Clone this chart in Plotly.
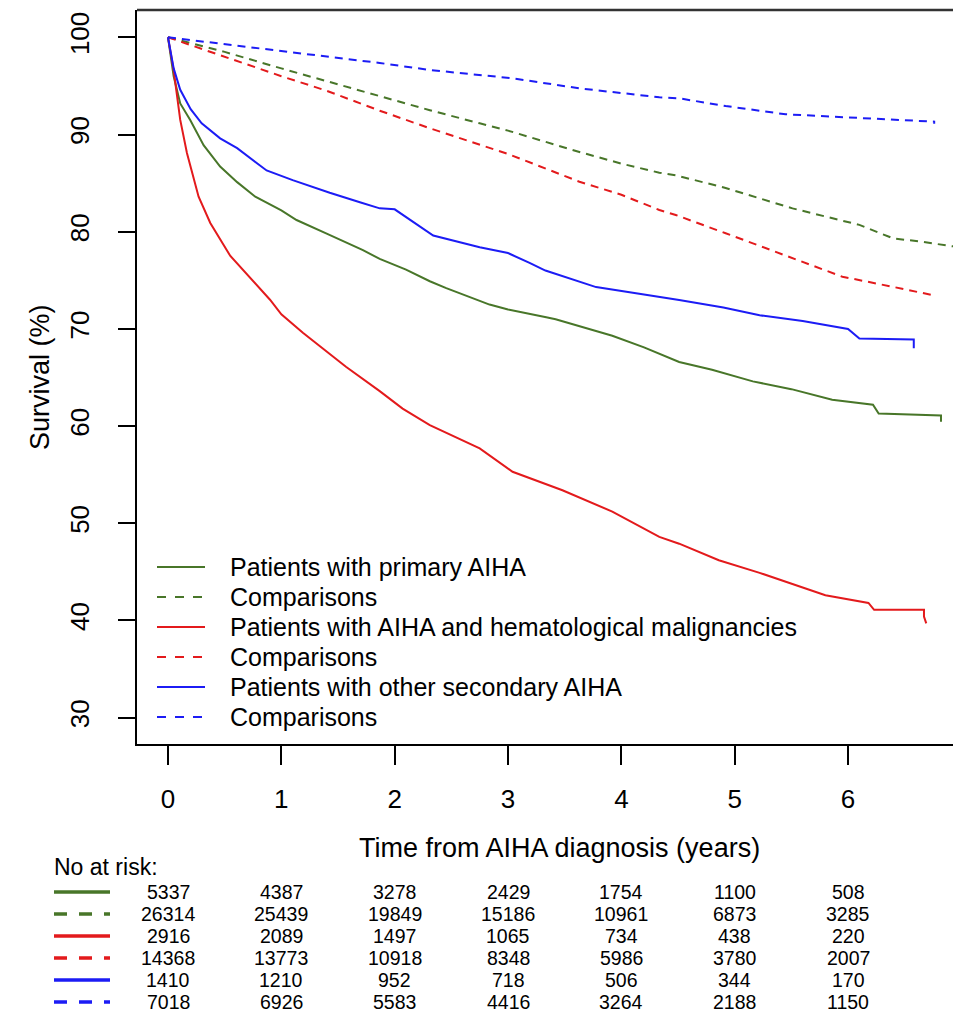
import plotly.graph_objects as go

# ---------------- data ----------------
# Patients with primary AIHA
t_prim = [0, 0.05, 0.108, 0.196, 0.314, 0.46, 0.61, 0.77, 1.0, 1.134, 1.4, 1.72, 1.868, 2.1, 2.31,
          2.455, 2.837, 3.0, 3.337, 3.42, 3.92, 4.2, 4.51, 4.8, 5.16, 5.5, 5.86, 6.15, 6.22, 6.27, 6.82, 6.82]
s_prim = [100, 96.0, 93.2, 91.5, 88.9, 86.7, 85.1, 83.6, 82.2, 81.2, 79.8, 78.1, 77.2, 76.1, 74.9,
          74.2, 72.5, 72.0, 71.2, 71.0, 69.3, 68.1, 66.6, 65.8, 64.6, 63.8, 62.7, 62.35, 62.2, 61.3, 61.1, 60.45]
# Comparisons for primary AIHA
t_prim_c = [0, 0.5, 1.0, 1.4, 1.868, 2.31, 2.75, 3.0, 3.63, 4.0, 4.335, 4.48, 4.92, 5.51, 6.10, 6.40, 6.63, 6.95]
s_prim_c = [100, 98.5, 96.8, 95.5, 93.96, 92.5, 91.15, 90.4, 88.2, 87.0, 86.07, 85.8, 84.5, 82.4, 80.7, 79.3, 79.0, 78.45]
# Patients with AIHA and hematological malignancies
t_heme = [0, 0.05, 0.108, 0.167, 0.27, 0.373, 0.55, 0.77, 0.9, 1.0, 1.19, 1.57, 1.868, 2.07, 2.31, 2.75,
          3.04, 3.48, 3.92, 4.335, 4.51, 4.86, 5.22, 5.80, 6.18, 6.23, 6.67, 6.67, 6.69]
s_heme = [100, 96.6, 91.5, 88.1, 83.6, 80.9, 77.5, 74.7, 73.0, 71.5, 69.6, 66.1, 63.6, 61.8, 60.1, 57.7,
          55.3, 53.4, 51.2, 48.6, 47.9, 46.2, 44.9, 42.6, 41.8, 41.1, 41.1, 40.4, 39.7]
# Comparisons for hematological malignancies
t_heme_c = [0, 0.5, 1.0, 1.4, 1.868, 2.31, 2.75, 3.0, 3.63, 4.0, 4.335, 4.48, 4.92, 5.51, 5.95, 6.39, 6.74]
s_heme_c = [100, 98.0, 96.0, 94.5, 92.45, 90.64, 88.92, 88.0, 85.14, 83.8, 82.23, 81.72, 79.84, 77.26, 75.37, 74.34, 73.49]
# Patients with other secondary AIHA
t_oth = [0, 0.05, 0.108, 0.2, 0.297, 0.46, 0.61, 0.77, 0.87, 1.1, 1.427, 1.7, 1.868, 2.0, 2.31, 2.34,
         2.75, 3.0, 3.19, 3.33, 3.777, 4.0, 4.42, 4.51, 4.9, 5.22, 5.6, 5.92, 6.0, 6.10, 6.58, 6.58]
s_oth = [100, 96.8, 94.6, 92.6, 91.15, 89.6, 88.6, 87.2, 86.3, 85.3, 84.0, 83.0, 82.4, 82.3, 79.9, 79.6,
         78.4, 77.8, 76.8, 76.0, 74.3, 73.9, 73.1, 72.97, 72.2, 71.4, 70.8, 70.1, 70.0, 69.0, 68.9, 68.0]
# Comparisons for other secondary AIHA
t_oth_c = [0, 0.5, 0.987, 1.868, 2.31, 3.042, 3.63, 4.335, 4.51, 4.92, 5.45, 6.10, 6.76, 6.76]
s_oth_c = [100, 99.3, 98.6, 97.36, 96.64, 95.78, 94.75, 93.83, 93.72, 92.93, 92.08, 91.73, 91.32, 91.1]

series_labels = ["Patients with primary AIHA", "Comparisons",
                 "Patients with AIHA and hematological malignancies", "Comparisons",
                 "Patients with other secondary AIHA", "Comparisons"]

# number at risk
risk_times = [0, 1, 2, 3, 4, 5, 6]
risk_prim = [5337, 4387, 3278, 2429, 1754, 1100, 508]
risk_prim_c = [26314, 25439, 19849, 15186, 10961, 6873, 3285]
risk_heme = [2916, 2089, 1497, 1065, 734, 438, 220]
risk_heme_c = [14368, 13773, 10918, 8348, 5986, 3780, 2007]
risk_oth = [1410, 1210, 952, 718, 506, 344, 170]
risk_oth_c = [7018, 6926, 5583, 4416, 3264, 2188, 1150]

x_ticks = [0, 1, 2, 3, 4, 5, 6]
y_ticks = [30, 40, 50, 60, 70, 80, 90, 100]

# ---------------- styling ----------------
GREEN = "#487629"
RED = "#e31a1c"
BLUE = "#1c1cf5"
FONT = "Liberation Sans, Arial, Helvetica, sans-serif"
W, H = 969, 1036
L, R, T, B = 137, 953, 10, 744
PW, PH = R - L, B - T


def xp(px):
    return (px - L) / PW


def yp(py):
    return (B - py) / PH


curves = [
    (t_prim, s_prim, GREEN, "solid"),
    (t_prim_c, s_prim_c, GREEN, "8px,6px"),
    (t_heme, s_heme, RED, "solid"),
    (t_heme_c, s_heme_c, RED, "8px,6px"),
    (t_oth, s_oth, BLUE, "solid"),
    (t_oth_c, s_oth_c, BLUE, "8px,6px"),
]
risk_rows = [risk_prim, risk_prim_c, risk_heme, risk_heme_c, risk_oth, risk_oth_c]

fig = go.Figure()
for (tx, sy, col, dash), name in zip(curves, series_labels):
    fig.add_trace(go.Scatter(x=tx, y=sy, mode="lines", name=name,
                             line=dict(color=col, width=2, dash=dash),
                             hoverinfo="skip"))

shapes = []
annotations = []

# top border of the box
shapes.append(dict(type="line", xref="paper", yref="paper", x0=0, x1=1, y0=1, y1=1,
                   line=dict(color="#333333", width=2.5)))

# legend inside plot
for i, ((tx, sy, col, dash), name) in enumerate(zip(curves, series_labels)):
    py = 567 + 30 * i
    shapes.append(dict(type="line", xref="paper", yref="paper",
                       x0=xp(157), x1=xp(205), y0=yp(py), y1=yp(py),
                       line=dict(color=col, width=2, dash="9px,9px" if dash != "solid" else "solid")))
    annotations.append(dict(xref="paper", yref="paper", x=xp(228), y=yp(py), text=name,
                            showarrow=False, xanchor="left", yanchor="middle",
                            font=dict(size=25, family=FONT, color="black")))

# axis titles
annotations.append(dict(xref="x", yref="paper", x=(559 - 168) / 113.33, y=yp(848),
                        text="Time from AIHA diagnosis (years)", showarrow=False,
                        xanchor="center", yanchor="middle",
                        font=dict(size=27, family=FONT, color="black")))
annotations.append(dict(xref="paper", yref="paper", x=xp(40), y=0.5, text="Survival (%)",
                        textangle=-90, showarrow=False, xanchor="center", yanchor="middle",
                        font=dict(size=27, family=FONT, color="black")))

# number at risk table
annotations.append(dict(xref="paper", yref="paper", x=xp(53), y=yp(867), text="No at risk:",
                        showarrow=False, xanchor="left", yanchor="middle", borderpad=0,
                        font=dict(size=23, family=FONT, color="black")))
for i, ((tx, sy, col, dash), row) in enumerate(zip(curves, risk_rows)):
    py = 892 + 22 * i
    shapes.append(dict(type="line", xref="paper", yref="paper",
                       x0=xp(54), x1=xp(110), y0=yp(py), y1=yp(py),
                       line=dict(color=col, width=3.5,
                                 dash="13px,12px" if dash != "solid" else "solid")))
    for tv, n in zip(risk_times, row):
        annotations.append(dict(xref="x", yref="paper", x=tv, y=yp(py), text=str(n),
                                showarrow=False, xanchor="center", yanchor="middle",
                                borderpad=0,
                                font=dict(size=19.5, family=FONT, color="black")))

fig.update_layout(
    width=W, height=H,
    margin=dict(l=L, r=W - R, t=T, b=H - B, pad=0),
    plot_bgcolor="white", paper_bgcolor="white",
    showlegend=False,
    font=dict(family=FONT, color="black"),
    shapes=shapes, annotations=annotations,
)
fig.update_xaxes(range=[-0.2735, 6.926], tickvals=x_ticks, ticks="outside", ticklen=19,
                 tickwidth=1.5, tickcolor="black", showline=True, linecolor="black",
                 linewidth=2, showgrid=False, zeroline=False,
                 tickfont=dict(size=26, family=FONT, color="black"), ticklabelstandoff=12)
fig.update_yaxes(range=[27.29, 102.81], tickvals=y_ticks, ticks="outside", ticklen=17,
                 tickwidth=1.5, tickcolor="black", showline=True, linecolor="black",
                 linewidth=2, showgrid=False, zeroline=False, tickangle=-90,
                 tickfont=dict(size=26, family=FONT, color="black"), ticklabelstandoff=19)

fig.write_html("out.html", config={"displayModeBar": False},
               post_script="document.body.style.margin='0';")
